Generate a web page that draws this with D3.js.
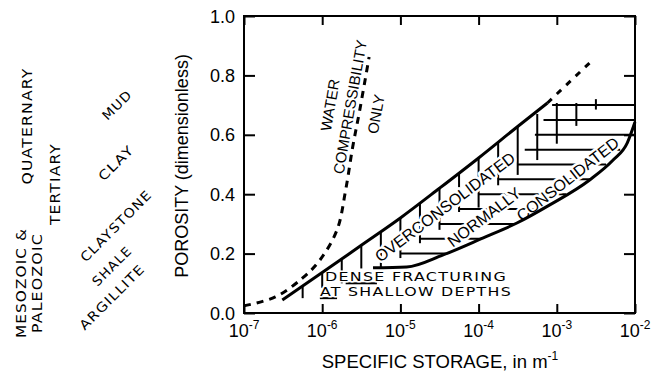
<!DOCTYPE html>
<html>
<head>
<meta charset="utf-8">
<script src="https://cdn.jsdelivr.net/npm/d3@7"></script>
<style>
    body { margin: 0; background: #fff; }
    svg { display: block; }
</style>
</head>
<body>
<svg id="chart" width="662" height="373"></svg>
<script>
// axis ticks (x in log10 of specific storage, y in porosity)
const g_exp_ticks = [-7, -6, -5, -4, -3, -2];
const g_por_ticks = [0.0, 0.2, 0.4, 0.6, 0.8, 1.0];

// curves: [log10 Ss, porosity]
const g_water_only = [[-7.0, 0.024], [-6.6, 0.054], [-6.25, 0.118], [-6.03, 0.178], [-5.81, 0.28], [-5.70, 0.414], [-5.61, 0.559], [-5.52, 0.683], [-5.40, 0.862]];
const g_upper = [[-6.51, 0.044], [-6.0, 0.136], [-5.5, 0.228], [-5.0, 0.32], [-4.5, 0.42], [-4.0, 0.522], [-3.5, 0.628], [-3.12, 0.707]];
const g_upper_ext = [[-3.12, 0.707], [-2.83, 0.78], [-2.54, 0.852]];
const g_lower = [[-5.35, 0.152], [-4.92, 0.155], [-4.46, 0.195], [-3.94, 0.253], [-3.51, 0.303], [-3.09, 0.364], [-2.58, 0.448], [-2.28, 0.515], [-2.10, 0.572], [-2.0, 0.643]];

// hatching: horizontals [porosity, from, to], verticals [log10 Ss, top, bottom]
const g_hatch_h = [[0.05, -6.03, -5.81], [0.10, -5.70, -5.30], [0.20, -5.0, -4.42], [0.25, -4.75, -3.97], [0.30, -4.5, -3.53],
    [0.35, -4.25, -3.18], [0.40, -4.0, -2.88], [0.45, -3.75, -2.575], [0.50, -3.5, -2.37], [0.55, -3.41, -2.19],
    [0.60, -3.28, -2.0], [0.65, -3.17, -2.0], [0.70, -3.06, -2.0]];
const g_hatch_v = [[-6.25, 0.09, 0.05], [-6.0, 0.137, 0.085], [-5.75, 0.183, 0.10], [-5.5, 0.228, 0.15], [-5.25, 0.275, 0.15],
    [-5.0, 0.32, 0.185], [-4.75, 0.37, 0.235], [-4.5, 0.42, 0.28], [-4.25, 0.47, 0.34], [-4.0, 0.522, 0.355],
    [-3.75, 0.575, 0.43], [-3.5, 0.628, 0.465], [-3.25, 0.67, 0.515], [-3.0, 0.707, 0.57], [-2.75, 0.707, 0.63], [-2.5, 0.72, 0.685]];

// annotations inside the plot: [text, log10 Ss, porosity, angle]
const g_region_labels = [["WATER", -5.90, 0.70, -80], ["COMPRESSIBILITY", -5.644, 0.694, -80], ["ONLY", -5.312, 0.670, -80],
    ["OVERCONSOLIDATED", -4.43, 0.357, -37], ["NORMALLY", -3.93, 0.323, -37], ["CONSOLIDATED", -2.86, 0.451, -38]];
const g_dense_labels = ["DENSE FRACTURING", "AT SHALLOW DEPTHS"];

// labels left of the chart
const g_era_labels = ["QUATERNARY", "TERTIARY", "MESOZOIC &", "PALEOZOIC"];
const g_rock_labels = ["MUD", "CLAY", "CLAYSTONE", "SHALE", "ARGILLITE"];

const g_plot = { left: 244, right: 635, top: 16, bottom: 313 };
const g_font = "'Liberation Sans', Arial, sans-serif";
const g_wide = "'DejaVu Sans', sans-serif";

const svg = d3.select("#chart");
const xs = d3.scaleLog().domain([1e-7, 1e-2]).range([g_plot.left, g_plot.right]);
const ys = d3.scaleLinear().domain([0, 1]).range([g_plot.bottom, g_plot.top]);
const px = e => xs(Math.pow(10, e));

// hatching
const hatch = svg.append("g").attr("stroke", "#000").attr("stroke-width", 2);
hatch.selectAll(".hh").data(g_hatch_h).join("line").classed("hh", true)
    .attr("x1", d => px(d[1])).attr("x2", d => px(d[2]))
    .attr("y1", d => ys(d[0])).attr("y2", d => ys(d[0]));
hatch.selectAll(".hv").data(g_hatch_v).join("line").classed("hv", true)
    .attr("x1", d => px(d[0])).attr("x2", d => px(d[0]))
    .attr("y1", d => ys(d[1])).attr("y2", d => ys(d[2]));

// region labels with white halo that cuts the hatching
svg.selectAll(".region").data(g_region_labels).join("text").classed("region", true)
    .attr("transform", d => "translate(" + px(d[1]) + "," + ys(d[2]) + ") rotate(" + d[3] + ")")
    .attr("text-anchor", "middle").attr("dy", "0.35em")
    .attr("font-family", g_font).attr("font-size", (d, i) => i < 3 ? 15 : 16)
    .attr("style", "paint-order:stroke; stroke:#fff; stroke-width:5px; stroke-linejoin:round")
    .attr("fill", "#000")
    .text(d => d[0]);

// dense fracturing note
const dense_pos = [[-5.964, 0.108, 182], [-6.028, 0.057, 192]];
svg.selectAll(".dense").data(g_dense_labels).join("text").classed("dense", true)
    .attr("x", (d, i) => px(dense_pos[i][0])).attr("y", (d, i) => ys(dense_pos[i][1]))
    .attr("textLength", (d, i) => dense_pos[i][2]).attr("lengthAdjust", "spacingAndGlyphs")
    .attr("font-family", g_wide).attr("font-size", 12.5).attr("letter-spacing", 1)
    .attr("style", "paint-order:stroke; stroke:#fff; stroke-width:3px; stroke-linejoin:round")
    .text(d => d);

// curves
const line = d3.line().x(d => px(d[0])).y(d => ys(d[1]));
svg.append("path").datum(g_upper).attr("d", line.curve(d3.curveMonotoneX))
    .attr("fill", "none").attr("stroke", "#000").attr("stroke-width", 3);
svg.append("path").datum(g_lower).attr("d", line.curve(d3.curveMonotoneX))
    .attr("fill", "none").attr("stroke", "#000").attr("stroke-width", 3);
svg.append("path").datum(g_upper_ext).attr("d", line.curve(d3.curveLinear))
    .attr("fill", "none").attr("stroke", "#000").attr("stroke-width", 3).attr("stroke-dasharray", "6,7");
svg.append("path").datum(g_water_only).attr("d", line.curve(d3.curveCatmullRom))
    .attr("fill", "none").attr("stroke", "#000").attr("stroke-width", 3).attr("stroke-dasharray", "7,6");

// frame and inward ticks
const xv = g_exp_ticks.map(e => Math.pow(10, e));
const axes = [
    [d3.axisBottom(xs).tickValues(xv).tickSize(-9), "translate(0," + g_plot.bottom + ")"],
    [d3.axisTop(xs).tickValues(xv).tickSize(-9), "translate(0," + g_plot.top + ")"],
    [d3.axisLeft(ys).tickValues(g_por_ticks).tickSize(-11), "translate(" + g_plot.left + ",0)"],
    [d3.axisRight(ys).tickValues(g_por_ticks).tickSize(-11), "translate(" + g_plot.right + ",0)"]
];
axes.forEach(function (a) {
    const g = svg.append("g").attr("transform", a[1]).call(a[0].tickFormat("").tickSizeOuter(0));
    g.select(".domain").remove();
    g.selectAll("line").attr("stroke", "#000").attr("stroke-width", 2);
});
svg.append("rect").attr("x", g_plot.left).attr("y", g_plot.top)
    .attr("width", g_plot.right - g_plot.left).attr("height", g_plot.bottom - g_plot.top)
    .attr("fill", "none").attr("stroke", "#000").attr("stroke-width", 2);

// tick labels
svg.selectAll(".ylab").data(g_por_ticks).join("text").classed("ylab", true)
    .attr("x", g_plot.left - 9).attr("y", d => ys(d) + 6.5)
    .attr("text-anchor", "end").attr("font-family", g_font).attr("font-size", 18)
    .text(d => d.toFixed(1));
const xlab = svg.selectAll(".xlab").data(g_exp_ticks).join("text").classed("xlab", true)
    .attr("x", d => px(d)).attr("y", 337)
    .attr("text-anchor", "middle").attr("font-family", g_font).attr("font-size", 18);
xlab.append("tspan").text("10");
xlab.append("tspan").attr("font-size", 12).attr("dy", -8).text(d => d);

// axis titles
const xt = svg.append("text").attr("x", 440).attr("y", 368).attr("text-anchor", "middle")
    .attr("font-family", g_font).attr("font-size", 18.5);
xt.append("tspan").text("SPECIFIC STORAGE, in m");
xt.append("tspan").attr("font-size", 12).attr("dy", -8).text("-1");
svg.append("text").attr("transform", "translate(188,166) rotate(-90)").attr("text-anchor", "middle")
    .attr("font-family", g_font).attr("font-size", 18).text("POROSITY (dimensionless)");

// geologic age and rock type labels
const era_pos = [[27, 126, 117], [55, 184, 82], [21, 283, 110], [37, 283, 100]];
svg.selectAll(".era").data(g_era_labels).join("text").classed("era", true)
    .attr("transform", (d, i) => "translate(" + era_pos[i][0] + "," + era_pos[i][1] + ") rotate(-90)")
    .attr("text-anchor", "middle").attr("dy", "0.35em")
    .attr("textLength", (d, i) => era_pos[i][2]).attr("lengthAdjust", "spacingAndGlyphs")
    .attr("font-family", g_wide).attr("font-size", 13.5).attr("letter-spacing", 1).text(d => d);
const rock_pos = [[117, 105, 36], [116, 163, 44], [116, 226, 95], [112, 266, 50], [112, 297, 86]];
svg.selectAll(".rock").data(g_rock_labels).join("text").classed("rock", true)
    .attr("transform", (d, i) => "translate(" + rock_pos[i][0] + "," + rock_pos[i][1] + ") rotate(-45)")
    .attr("text-anchor", "middle").attr("dy", "0.35em")
    .attr("textLength", (d, i) => rock_pos[i][2]).attr("lengthAdjust", "spacingAndGlyphs")
    .attr("font-family", g_wide).attr("font-size", 13).attr("letter-spacing", 1).text(d => d);
</script>
</body>
</html>
